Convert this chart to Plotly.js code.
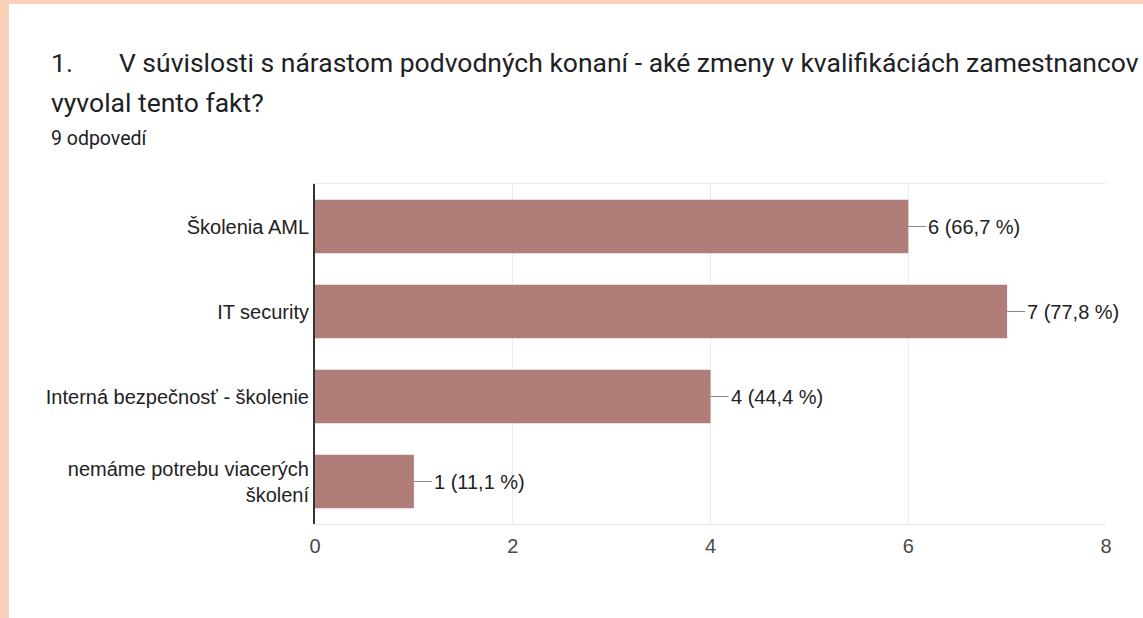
<!DOCTYPE html>
<html><head><meta charset="utf-8">
<script src="https://cdn.plot.ly/plotly-3.0.1.min.js"></script>
<style>
html,body{margin:0;padding:0;background:#fbd0b8;width:1143px;height:618px;overflow:hidden;}
#chart{position:absolute;left:9px;top:4px;width:1134px;height:614px;background:#fff;}
</style></head>
<body><div id="chart"></div>
<script>
const categories = ["Školenia AML", "IT security", "Interná bezpečnosť - školenie", "nemáme potrebu viacerých<br>školení"];
const counts = [6, 7, 4, 1];
const percentLabels = ["66,7 %", "77,8 %", "44,4 %", "11,1 %"];
const xTicks = [0, 2, 4, 6, 8];
const titleLine1 = "1.\u00a0\u00a0\u00a0\u00a0\u00a0\u00a0\u00a0V súvislosti s nárastom podvodných konaní - aké zmeny v kvalifikáciách zamestnancov";
const titleLine2 = "vyvolal tento fakt?";
const subtitle = "9 odpovedí";

const W = 1134, H = 614;
const m = {l: 306, r: 37, t: 180, b: 94};
const pw = W - m.l - m.r, ph = H - m.t - m.b;
const px = x => (x - m.l) / pw;
const py = y => 1 - (y - m.t) / ph;

const annotations = [
  {text: titleLine1, x: px(40), y: py(59), xref: 'paper', yref: 'paper', xanchor: 'left', yanchor: 'middle', showarrow: false, font: {family: 'Roboto', size: 26.5, color: '#202124'}},
  {text: titleLine2, x: px(40), y: py(99), xref: 'paper', yref: 'paper', xanchor: 'left', yanchor: 'middle', showarrow: false, font: {family: 'Roboto', size: 26.5, color: '#202124'}},
  {text: subtitle, x: px(40), y: py(134), xref: 'paper', yref: 'paper', xanchor: 'left', yanchor: 'middle', showarrow: false, font: {family: 'Roboto', size: 19.5, color: '#202124'}}
];
categories.forEach((c, i) => {
  annotations.push({
    x: counts[i], y: c, xref: 'x', yref: 'y',
    text: counts[i] + ' (' + percentLabels[i] + ')',
    showarrow: true, arrowhead: 0, arrowwidth: 1.2, arrowcolor: '#8a8a8a',
    ax: 18, ay: 0, xanchor: 'left', yanchor: 'middle', standoff: 0, startstandoff: 0,
    font: {family: 'Liberation Sans, Arial', size: 20, color: '#222222'}
  });
});

Plotly.newPlot('chart', [{
  type: 'bar', orientation: 'h',
  x: counts, y: categories,
  marker: {color: '#b07d78'},
  width: 0.63,
  hoverinfo: 'none'
}], {
  width: W, height: H,
  margin: m,
  paper_bgcolor: '#ffffff', plot_bgcolor: '#ffffff',
  showlegend: false,
  xaxis: {range: [0, 8], tickvals: xTicks, showgrid: true, gridcolor: '#ebebeb', gridwidth: 1,
          zeroline: false, showline: true, linecolor: '#ebebeb', mirror: true, ticks: '',
          ticklabelstandoff: 4, tickfont: {family: 'Liberation Sans, Arial', size: 20, color: '#4a4a4a'}},
  yaxis: {autorange: 'reversed', showline: true, linecolor: '#333333', linewidth: 2, ticks: '',
          showgrid: false, zeroline: false,
          tickfont: {family: 'Liberation Sans, Arial', size: 20, color: '#222222'}},
  annotations: annotations
}, {staticPlot: true});
</script></body></html>
